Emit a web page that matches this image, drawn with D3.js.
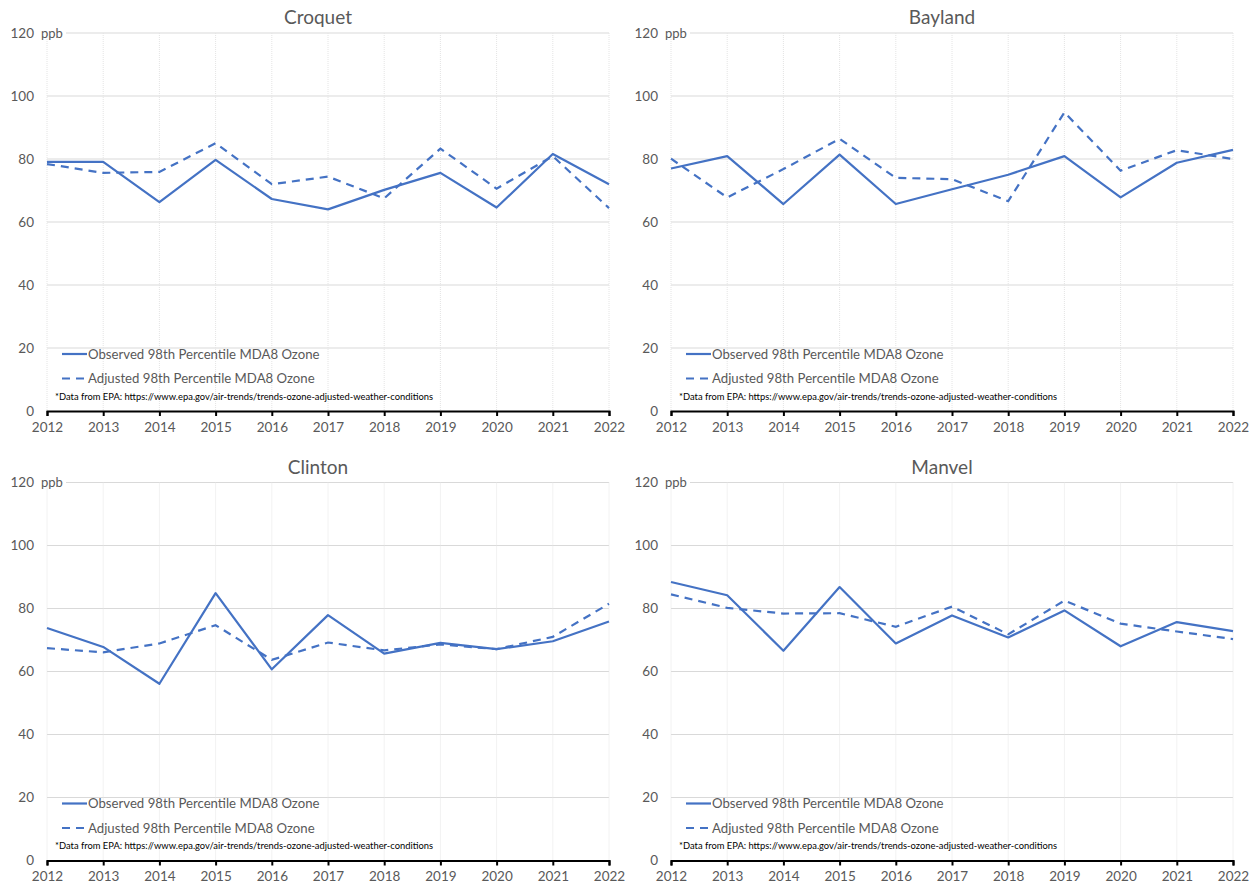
<!DOCTYPE html>
<html>
<head>
<meta charset="utf-8">
<script src="https://cdn.jsdelivr.net/npm/d3@7"></script>
<style>
  body { margin: 0; background: #fff; }
  svg { display: block; font-family: Lato, "Open Sans", sans-serif; }
</style>
</head>
<body>
<svg id="chart" width="1255" height="886"></svg>
<script>
// data (ppb)
var years = [2012, 2013, 2014, 2015, 2016, 2017, 2018, 2019, 2020, 2021, 2022];
var sites = ["Croquet", "Bayland", "Clinton", "Manvel"];
var yTicks = [0, 20, 40, 60, 80, 100, 120];

var croquetObserved = [79.1, 79.1, 66.3, 79.7, 67.3, 64.0, 70.2, 75.6, 64.6, 81.6, 72.0];
var croquetAdjusted = [78.4, 75.6, 75.9, 85.0, 72.0, 74.4, 67.5, 83.3, 70.6, 80.9, 64.4];
var baylandObserved = [77.0, 80.9, 65.7, 81.4, 65.7, 70.4, 75.0, 80.9, 67.8, 78.8, 82.9];
var baylandAdjusted = [80.1, 67.8, 76.8, 86.4, 74.0, 73.6, 66.6, 94.8, 76.3, 82.8, 80.0];
var clintonObserved = [73.8, 67.8, 56.1, 84.9, 60.7, 77.9, 65.7, 69.1, 67.1, 69.6, 75.9];
var clintonAdjusted = [67.4, 66.1, 68.9, 74.7, 63.7, 69.2, 66.7, 68.6, 67.1, 71.0, 81.5];
var manvelObserved = [88.4, 84.2, 66.6, 86.8, 68.9, 77.8, 70.8, 79.4, 68.0, 75.7, 72.8];
var manvelAdjusted = [84.5, 80.2, 78.4, 78.5, 74.2, 80.6, 71.8, 82.5, 75.2, 72.7, 70.3];

var observed = [croquetObserved, baylandObserved, clintonObserved, manvelObserved];
var adjusted = [croquetAdjusted, baylandAdjusted, clintonAdjusted, manvelAdjusted];

var legendLabels = ["Observed 98th Percentile MDA8 Ozone", "Adjusted 98th Percentile MDA8 Ozone"];
var note = "*Data from EPA: https://www.epa.gov/air-trends/trends-ozone-adjusted-weather-conditions";

var lineColor = "#4472c4";
var textColor = "#595959";

var svg = d3.select("#chart");

var x = d3.scaleLinear().domain([2012, 2022]).range([47, 609]);
var y = d3.scaleLinear().domain([0, 120]).range([411, 33]);

var line = d3.line()
    .x(function(d, i) { return x(years[i]); })
    .y(function(d) { return y(d); });

sites.forEach(function(site, k) {
    var col = k % 2, row = Math.floor(k / 2);
    var g = svg.append("g")
        .attr("transform", "translate(" + (col * 624) + "," + (row * 449.5) + ")");

    //title
    g.append("text")
        .attr("x", 318)
        .attr("y", 24)
        .attr("text-anchor", "middle")
        .style("font-size", "19px")
        .style("fill", textColor)
        .text(site);

    //horizontal gridlines
    g.selectAll(".hgrid")
        .data(yTicks.filter(function(t) { return t > 0; }))
        .enter().append("line")
        .attr("x1", function(d) { return d === 120 ? 66 : x(2012); })
        .attr("x2", x(2022))
        .attr("y1", function(d) { return y(d); })
        .attr("y2", function(d) { return y(d); })
        .style("stroke", "#d9d9d9")
        .style("stroke-width", 1);

    //vertical gridlines (dotted)
    g.selectAll(".vgrid")
        .data(years)
        .enter().append("line")
        .attr("x1", function(d) { return x(d); })
        .attr("x2", function(d) { return x(d); })
        .attr("y1", y(120))
        .attr("y2", y(0))
        .style("stroke", "#e4e4e4")
        .style("stroke-width", 1)
        .style("stroke-dasharray", "1,1");

    //y axis labels
    var yAxis = g.append("g")
        .attr("transform", "translate(" + (x(2012) - 13) + ",0)")
        .call(d3.axisLeft(y).tickValues(yTicks).tickSize(0).tickPadding(0));
    yAxis.select(".domain").remove();
    yAxis.selectAll("text")
        .style("font-family", "Lato, sans-serif")
        .style("font-size", "13.5px")
        .style("fill", textColor);

    //unit label
    g.append("text")
        .attr("x", 41)
        .attr("y", y(120))
        .attr("dy", "0.35em")
        .style("font-size", "13px")
        .style("fill", textColor)
        .text("ppb");

    //x axis
    var xAxis = g.append("g")
        .attr("transform", "translate(0," + y(0) + ")")
        .call(d3.axisBottom(x).tickValues(years).tickFormat(d3.format("d")).tickSize(5).tickPadding(6));
    xAxis.select(".domain").style("stroke", "#000").style("stroke-width", 2);
    xAxis.selectAll(".tick line").style("stroke", "#000").style("stroke-width", 2);
    xAxis.selectAll("text")
        .style("font-family", "Lato, sans-serif")
        .style("font-size", "13.5px")
        .style("fill", textColor);

    //series
    g.append("path")
        .datum(observed[k])
        .attr("d", line)
        .style("fill", "none")
        .style("stroke", lineColor)
        .style("stroke-width", 2.2)
        .style("stroke-linejoin", "round");

    g.append("path")
        .datum(adjusted[k])
        .attr("d", line)
        .style("fill", "none")
        .style("stroke", lineColor)
        .style("stroke-width", 2.2)
        .style("stroke-dasharray", "8,6");

    //legend
    legendLabels.forEach(function(lbl, i) {
        var ly = 354 + i * 24.5;
        g.append("line")
            .attr("x1", 62).attr("x2", 87)
            .attr("y1", ly).attr("y2", ly)
            .style("stroke", lineColor)
            .style("stroke-width", 2.2)
            .style("stroke-dasharray", i === 0 ? null : "8,6");
        g.append("text")
            .attr("x", 88)
            .attr("y", ly)
            .attr("dy", "0.35em")
            .style("font-size", "13.2px")
            .style("fill", textColor)
            .text(lbl);
    });

    //source note
    g.append("text")
        .attr("x", 55)
        .attr("y", 396.5)
        .attr("dy", "0.35em")
        .attr("textLength", 378)
        .attr("lengthAdjust", "spacingAndGlyphs")
        .style("font-size", "9.5px")
        .style("fill", "#000")
        .text(note);
});
</script>
</body>
</html>
